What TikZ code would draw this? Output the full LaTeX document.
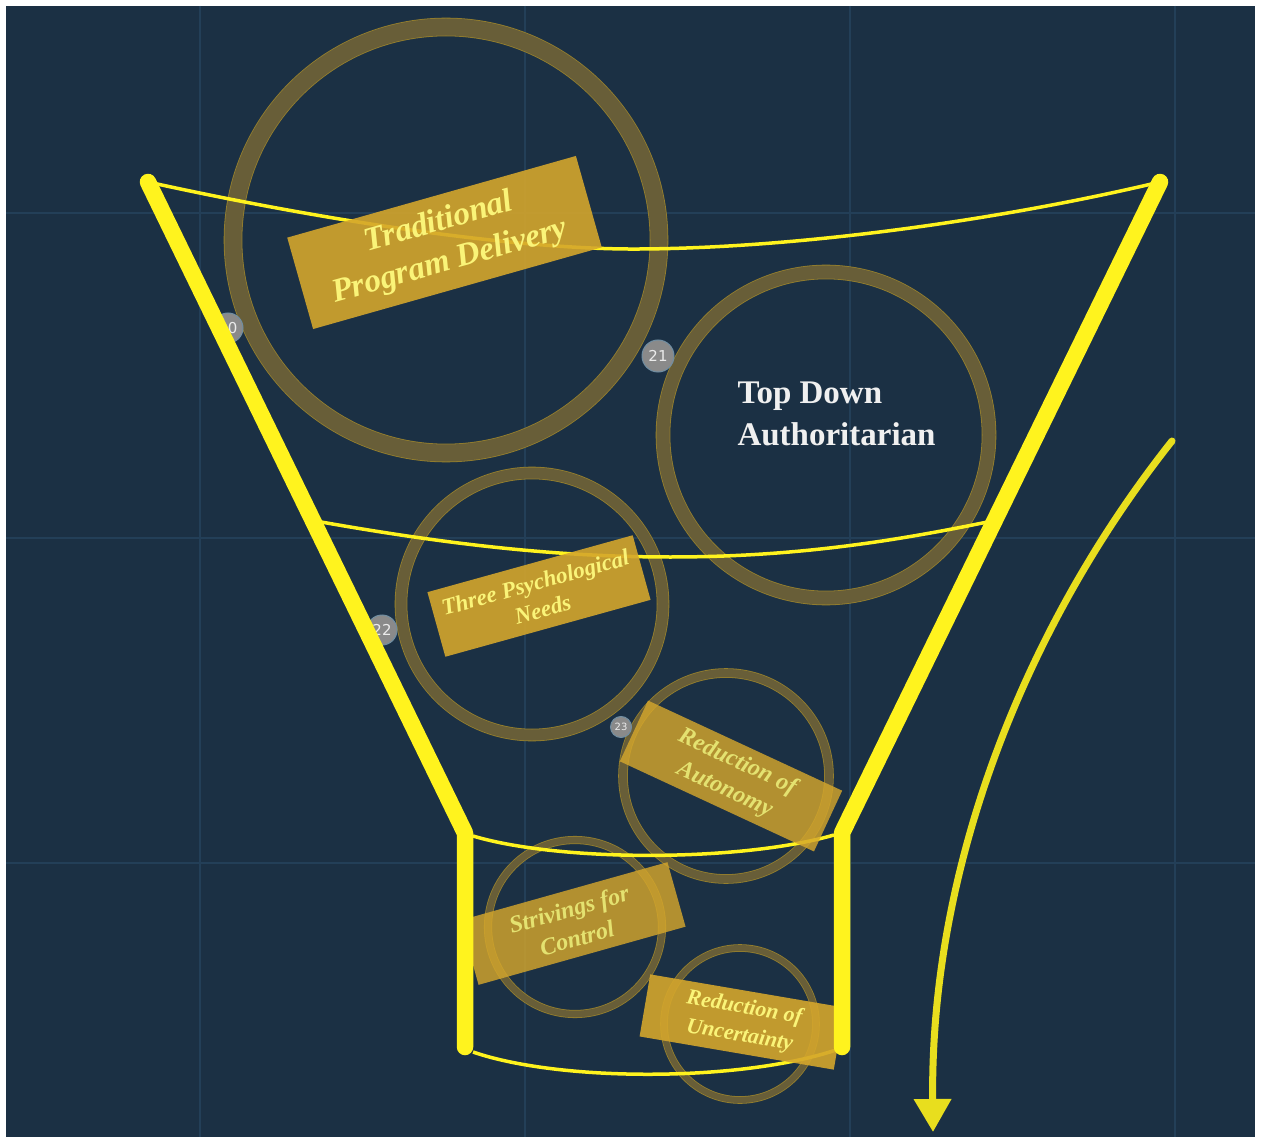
\documentclass[tikz,border=0pt]{standalone}
\usepackage{fontspec}
\setmainfont{Liberation Serif}
\setsansfont{DejaVu Sans}
\usepackage{tikz}
\usetikzlibrary{calc}
\usetikzlibrary{arrows.meta}
\definecolor{navy}{RGB}{27,48,68}
\definecolor{gridline}{RGB}{35,63,88}
\definecolor{funnel}{RGB}{255,243,30}
\definecolor{ring}{RGB}{104,94,56}
\definecolor{ringedge}{RGB}{150,128,45}
\definecolor{tag}{RGB}{212,166,44}
\definecolor{tagtext}{RGB}{250,244,120}
\definecolor{paletext}{RGB}{228,226,112}
\definecolor{badge}{RGB}{138,138,138}
\definecolor{badgeedge}{RGB}{112,142,162}
\definecolor{flow}{RGB}{232,222,30}

\begin{document}
\begin{tikzpicture}[x=1pt,y=-1pt,
  bar/.style={funnel,line width=16.5pt,line cap=round,line join=round},
  rim/.style={funnel,line width=3.5pt},
  goal/.style={circle,inner sep=0pt,minimum size=#1,draw=ringedge,line width=0.8pt,double=ring},
  tagbox/.style={fill=tag,fill opacity=0.9,text opacity=1,text=tagtext,align=center,inner sep=0pt},
  badgedot/.style={circle,fill=badge,draw=badgeedge,line width=1pt,text=white!92!black,inner sep=0pt,minimum size=#1,font=\sffamily\fontsize{15}{15}\selectfont}]

\useasboundingbox (0,0) rectangle (1261,1139);
\fill[white] (0,0) rectangle (1261,1139);
\fill[navy] (6,6) rectangle (1255,1137);

\foreach \gx in {200,525,850,1175} \draw[gridline,line width=1.2pt] (\gx,6) -- (\gx,1137);
\foreach \gy in {213,538,863} \draw[gridline,line width=1.2pt] (6,\gy) -- (1255,\gy);

\node[goal=426pt,double distance=17pt] (trad) at (446,240) {};
\node[goal=326pt,double distance=13pt] (authority) at (826,435) {};
\node[goal=262pt,double distance=11pt] (needs) at (532,604) {};
\node[goal=206pt,double distance=8pt] (autonomy) at (726,776) {};
\node[goal=174pt,double distance=6.5pt] (control) at (575,927) {};
\node[goal=152pt,double distance=6pt] (uncertainty) at (740,1024) {};

\coordinate (tl) at (148,182);
\coordinate (tr) at (1160,182);
\coordinate (ml) at (465,833);
\coordinate (mr) at (842,833);
\coordinate (bl) at (465,1047);
\coordinate (br) at (842,1047);
\coordinate (wl) at ($(tl)!0.52!(ml)$);
\coordinate (wr) at ($(tr)!0.52!(mr)$);

\draw[rim] (tl) .. controls (330,222) and (520,250) .. (640,249) .. controls (800,248) and (1000,220) .. (tr);
\draw[rim] (wl) .. controls (450,545) and (560,557) .. (670,557) .. controls (800,557) and (900,540) .. (wr);
\draw[rim] (ml) ++(8,3) .. controls (560,862) and (740,862) .. ($(mr)+(-8,2)$);
\draw[rim] (bl) ++(8,5) .. controls (560,1082) and (740,1082) .. ($(br)+(-6,3)$);

\node[tagbox,rotate=15.8,minimum width=300pt,minimum height=95pt,font=\bfseries\itshape\fontsize{33}{41}\selectfont] (tradtag) at (444.5,242.5) {Traditional\\Program Delivery};
\node[anchor=base west,align=left,text=white!94!black,font=\bfseries\fontsize{33}{42}\selectfont] (topdown) at (734,445) {Top Down\\Authoritarian};
\node[tagbox,rotate=15.5,minimum width=213pt,minimum height=67pt,font=\bfseries\itshape\fontsize{23}{28}\selectfont] (needstag) at (539,596) {Three Psychological\\Needs};
\node[tagbox,fill opacity=0.82,text=paletext,rotate=-24.9,minimum width=214pt,minimum height=67pt,font=\bfseries\itshape\fontsize{24}{30}\selectfont] (autonomytag) at (731,776) {Reduction of\\Autonomy};
\node[tagbox,fill opacity=0.82,text=paletext,rotate=15.7,minimum width=215pt,minimum height=67pt,font=\bfseries\itshape\fontsize{24}{30}\selectfont] (controltag) at (573,923.5) {Strivings for\\Control};
\node[tagbox,rotate=-9.7,minimum width=197pt,minimum height=63pt,font=\bfseries\itshape\fontsize{22}{28}\selectfont] (uncertaintytag) at (742,1022) {Reduction of\\Uncertainty};

\node[badgedot=30pt] (n20) at (228,328) {20};
\node[badgedot=32pt] (n21) at (658,356) {21};
\node[badgedot=30pt] (n22) at (382,630) {22};
\node[badgedot=21pt,font=\sffamily\fontsize{10}{10}\selectfont] (n23) at (621,727) {23};

\draw[bar] (tl) -- (ml) -- (bl);
\draw[bar] (tr) -- (mr) -- (br);

\coordinate (flowstart) at (1172,441);
\coordinate (flowend) at (933,1132);
\draw[flow,line width=7pt,line cap=round,-{Triangle[width=36pt,length=33pt]}] (flowstart) .. controls (1030,620) and (930,860) .. (flowend);
\end{tikzpicture}
\end{document}
